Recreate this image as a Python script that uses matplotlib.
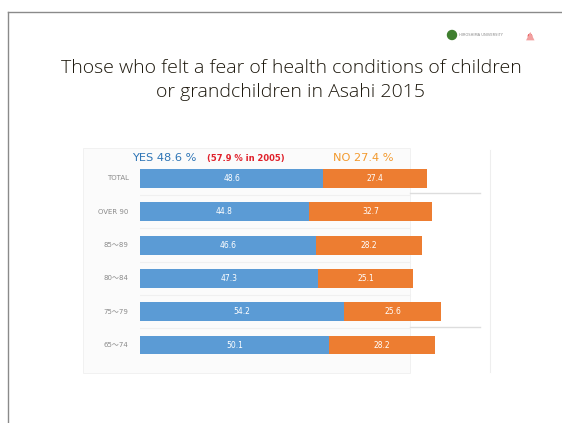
import matplotlib
matplotlib.use("Agg")
import matplotlib.pyplot as plt
from matplotlib.patches import Rectangle, Circle

categories = ["TOTAL", "OVER 90", "85～89", "80～84", "75～79", "65～74"]
yes_values = [48.6, 44.8, 46.6, 47.3, 54.2, 50.1]
no_values = [27.4, 32.7, 28.2, 25.1, 25.6, 28.2]

W, H = 562, 423
fig = plt.figure(figsize=(W / 100, H / 100), dpi=100)
fig.patch.set_facecolor("white")

# slide decoration axes in pixel coords
bg = fig.add_axes([0, 0, 1, 1])
bg.set_xlim(0, W)
bg.set_ylim(H, 0)
bg.axis("off")
bg.plot([8, W], [12, 12], color="#8a8a8a", lw=1.0)
bg.plot([8, 8], [12, H], color="#8a8a8a", lw=1.0)
# chart image background
bg.add_patch(Rectangle((83, 148), 327, 225, facecolor="#fbfbfb", edgecolor="#f0f0f0", lw=0.6))
bg.plot([410, 480], [193, 193], color="#dddddd", lw=1)
bg.plot([410, 480], [327, 327], color="#dddddd", lw=1)
bg.plot([490, 490], [150, 372], color="#eeeeee", lw=0.8)

# logo
bg.add_patch(Circle((452, 35), 4.5, color="#3f7f2f"))
bg.text(459, 35, "HIROSHIMA UNIVERSITY", fontsize=2.6, color="#888888", va="center", ha="left")
bg.text(530, 36, "▲", fontsize=8, color="#f2a0a0", ha="center", va="center")
bg.add_patch(Circle((530, 36), 1.6, color="#e03030"))

title_font = ["Open Sans", "DejaVu Sans"]
bg.text(291, 68, "Those who felt a fear of health conditions of children",
        fontsize=14.0, color="#1c170c", ha="center", va="center", family=title_font, fontweight="light")
bg.text(291, 92, "or grandchildren in Asahi 2015",
        fontsize=14.0, color="#1c170c", ha="center", va="center", family=title_font, fontweight="light")

# header labels
bg.text(132, 158, "YES 48.6 %", fontsize=8.2, color="#2E75B6", ha="left", va="center")
bg.text(207, 158, "(57.9 % in 2005)", fontsize=6, color="#E0202A", ha="left", va="center", fontweight="bold")
bg.text(333, 158, "NO 27.4 %", fontsize=8.2, color="#F39A2E", ha="left", va="center")

# chart axes: x from 140px, 3.77 px per unit; rows at 178.5 .. 345
px_per_unit = 3.77
x0, x1 = 140, 450
y_top, y_bot = 162, 362
ax = fig.add_axes([x0 / W, 1 - y_bot / H, (x1 - x0) / W, (y_bot - y_top) / H])
ax.set_xlim(0, (x1 - x0) / px_per_unit)
spacing = 33.3
n = len(categories)
ax.set_ylim((y_bot - 178.5) / spacing, (y_top - 178.5) / spacing)
ax.axis("off")
ax.patch.set_alpha(0)

label_font = ["DejaVu Sans", "Noto Sans CJK JP"]
ypos = list(range(n))
ax.barh(ypos, yes_values, height=0.57, color="#5B9BD5", edgecolor="none")
ax.barh(ypos, no_values, left=yes_values, height=0.57, color="#ED7D31", edgecolor="none")
for i, (y, nv) in enumerate(zip(yes_values, no_values)):
    ax.text(y / 2, i, f"{y:.1f}", color="white", fontsize=5.5, ha="center", va="center")
    ax.text(y + nv / 2, i, f"{nv:.1f}", color="white", fontsize=5.5, ha="center", va="center")
    ax.text(-3.0, i, categories[i], color="#8a8a8a", fontsize=5, ha="right", va="center",
            family=label_font)
    if i < n - 1:
        ax.plot([0, 270 / px_per_unit], [i + 0.5, i + 0.5], color="#f0f0f0", lw=0.8)

fig.savefig("out.png", dpi=100, facecolor="white")
